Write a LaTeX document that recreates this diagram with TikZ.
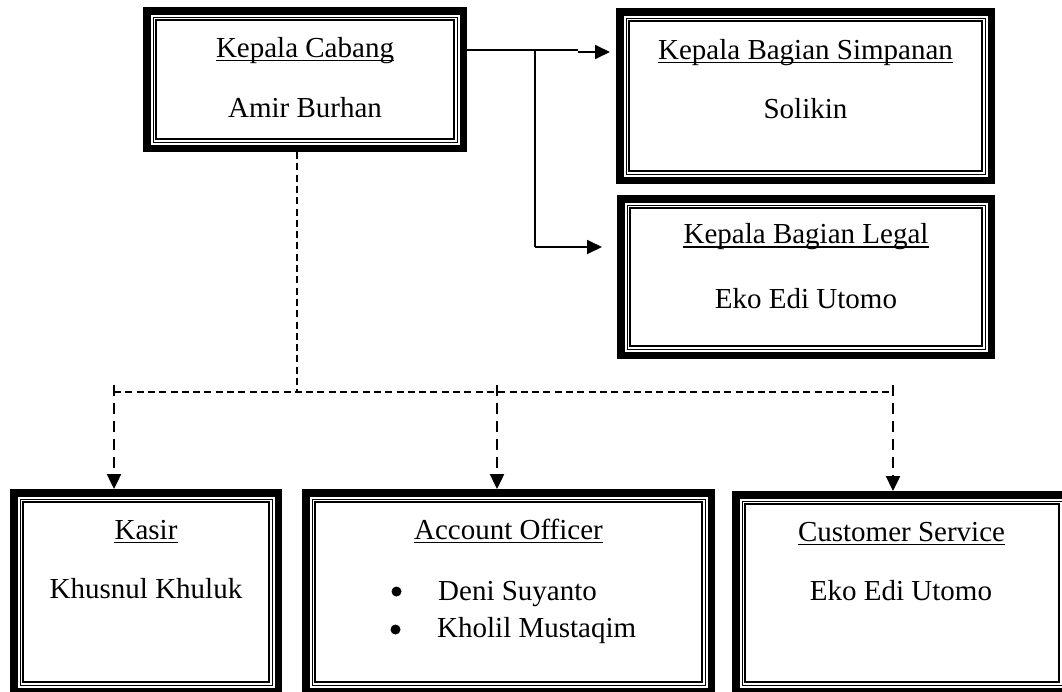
\documentclass[tikz,border=0pt]{standalone}
\usepackage{fontspec}
\setmainfont{Liberation Serif}
\usetikzlibrary{arrows.meta}
\newcommand{\orgfs}{\fontsize{29}{34}\selectfont}
% #1 name, #2 x1, #3 y1, #4 x2, #5 y2 (outer edges, y downwards)
\newcommand{\orgbox}[5]{%
  \node[obox, minimum width={#4-#2-7.5}, minimum height={#5-#3-7.5}] (#1) at ({(#2+#4)/2},{(#3+#5)/2}) {};
  \draw[iline1] ([shift={(10,10)}]#1.north west) rectangle ([shift={(-10,-10)}]#1.south east);
  \draw[iline2] ([shift={(13,13)}]#1.north west) rectangle ([shift={(-13,-13)}]#1.south east);
}
\begin{document}
\begin{tikzpicture}[x=1pt,y=-1pt,
  obox/.style={draw, rectangle, line width=7.5pt, inner sep=0pt, outer sep=3.75pt},
  iline1/.style={line width=0.9pt},
  iline2/.style={line width=1.3pt},
  txt/.style={anchor=base, inner sep=0pt, font=\orgfs},
  uline/.style={line width=1.4pt},
  conn/.style={line width=1.8pt},
  dconn/.style={line width=2pt, dash pattern=on 7pt off 4.3pt},
  vdconn/.style={line width=2.4pt, dash pattern=on 11pt off 7pt},
  tip/.style={-{Triangle[length=15pt,width=14pt]}}
]
\useasboundingbox (0,0) rectangle (1062,691);

% boxes
\orgbox{cabang}{143}{7}{467}{152}
\orgbox{simp}{616}{8}{995}{184}
\orgbox{legal}{617}{195}{995}{359}
\orgbox{kasir}{10}{489}{282}{695}
\orgbox{ao}{302}{489}{715}{695}
\orgbox{cs}{732}{491}{1072}{695}

% texts
\node[txt] (cabangT) at (305,57) {Kepala Cabang};
\node[txt] (cabangN) at (305,117) {Amir Burhan};
\node[txt] (simpT) at (805.5,59) {Kepala Bagian Simpanan};
\node[txt] (simpN) at (805.5,118) {Solikin};
\node[txt] (legalT) at (806,243.5) {Kepala Bagian Legal};
\node[txt] (legalN) at (806,308.5) {Eko Edi Utomo};
\node[txt] (kasirT) at (146,539) {Kasir};
\node[txt] (kasirN) at (146,598) {Khusnul Khuluk};
\node[txt] (aoT) at (508.5,539) {Account Officer};
\node[txt, anchor=base west] (aoN1) at (438,600) {Deni Suyanto};
\node[txt, anchor=base west] (aoN2) at (437,637) {Kholil Mustaqim};
\node[txt] (csT) at (901.5,541) {Customer Service};
\node[txt] (csN) at (901,600) {Eko Edi Utomo};

\foreach \t in {cabangT,simpT,legalT,kasirT,aoT,csT}
  \draw[uline] ([yshift=-3.5pt]\t.base west) -- ([yshift=-3.5pt]\t.base east);

% bullets
\fill ([xshift=-41.5pt,yshift=8.5pt]aoN1.base west) circle (5pt);
\fill ([xshift=-41.5pt,yshift=7.5pt]aoN2.base west) circle (5pt);

% solid connectors
\coordinate (j1) at (535,50);
\coordinate (j2) at (578,50);
\coordinate (j3) at (578,52);
\coordinate (j4) at (535,247);
\draw[conn] (cabang.east |- j1) -- (j2);
\draw[conn, tip] (j3) -- ([xshift=-6pt]simp.west |- j3);
\draw[conn] (j1) -- (j4);
\draw[conn, tip] (j4) -- ([xshift=-15pt]legal.west |- j4);

% dashed connectors
\coordinate (d0) at (297,392);
\coordinate (dk) at (114,392);
\coordinate (da) at (497,392);
\coordinate (dc) at (893,392);
\draw[dconn] (cabang.south -| d0) -- (d0);
\draw[dconn] (dk) -- (dc);
\draw[vdconn, tip] ([yshift=7pt]dk) -- (dk |- kasir.north);
\draw[vdconn, tip] ([yshift=7pt]da) -- (da |- ao.north);
\draw[vdconn, tip] ([yshift=7pt]dc) -- (dc |- cs.north);
\end{tikzpicture}
\end{document}
